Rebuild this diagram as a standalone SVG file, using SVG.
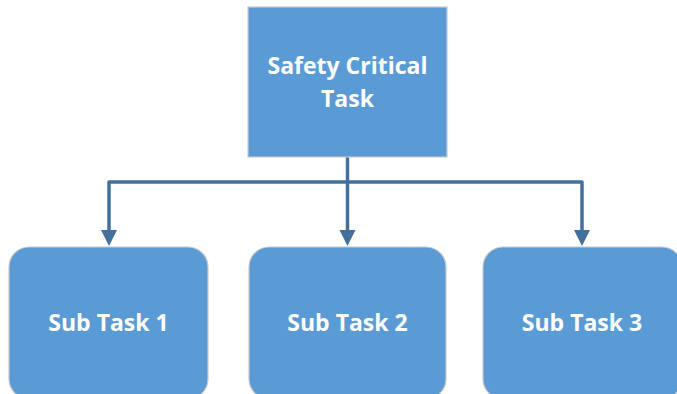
<svg xmlns="http://www.w3.org/2000/svg" width="677" height="394" viewBox="0 0 677 394">
<style>
.box{fill:#5B9BD5;stroke:#C9C9C9;stroke-width:1.2}
.lbl{font-family:"Open Sans","Liberation Sans",sans-serif;font-weight:bold;font-size:23px;fill:#FFFFFF;text-anchor:middle}
.con{fill:none;stroke:#43709C;stroke-width:3.5;stroke-linejoin:round}
.head{fill:#43709C}
</style>
<rect width="677" height="394" fill="#FFFFFF"/>
<g id="connectors">
<path class="con" d="M347.5,157 V231"/>
<path class="con" d="M109,231 V182 H582 V231"/>
<path class="head" d="M101,230 L117,230 L109,246 Z"/>
<path class="head" d="M339.5,230 L355.5,230 L347.5,246 Z"/>
<path class="head" d="M574,230 L590,230 L582,246 Z"/>
</g>
<g id="safety-critical-task">
<rect class="box" x="248" y="7" width="199" height="150"/>
<text class="lbl" x="347.5" y="74">Safety Critical</text>
<text class="lbl" x="347.5" y="107">Task</text>
</g>
<g id="sub-task-1">
<rect class="box" x="9" y="247" width="199" height="152" rx="20"/>
<text class="lbl" x="108.5" y="331">Sub Task 1</text>
</g>
<g id="sub-task-2">
<rect class="box" x="249" y="247" width="197" height="152" rx="20"/>
<text class="lbl" x="347.5" y="331">Sub Task 2</text>
</g>
<g id="sub-task-3">
<rect class="box" x="483" y="247" width="199" height="152" rx="20"/>
<text class="lbl" x="582" y="331">Sub Task 3</text>
</g>
</svg>
